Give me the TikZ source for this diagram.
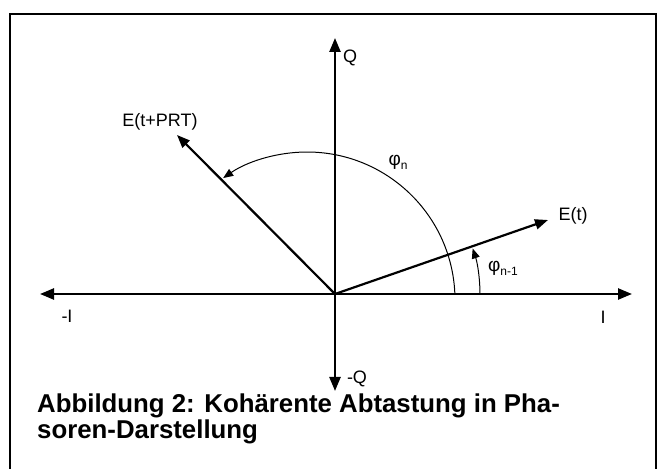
\documentclass[tikz,border=0pt]{standalone}
\usepackage{fontspec}
\setmainfont{Liberation Sans}
\usepackage{tikz}
\usetikzlibrary{positioning}
\usetikzlibrary{arrows.meta}
\usetikzlibrary{calc}

\newcommand{\phlabel}[1]{{\fontsize{19}{20}\selectfont φ}\raisebox{-4pt}{\fontsize{12}{13}\selectfont #1}}

\begin{document}
\begin{tikzpicture}[
  x=1pt, y=1pt,
  axis/.style={line width=2.4pt, -{Triangle[length=14pt,width=11pt]}},
  phasor/.style={line width=2.2pt, -{Triangle[length=13pt,width=10pt]}},
  anglearc/.style={line width=1pt, -{Triangle[length=10pt,width=8pt]}},
  lbl/.style={inner sep=0pt, font=\fontsize{18}{20}\selectfont},
  caption/.style={inner sep=0pt, anchor=base west, font=\fontsize{25.8}{27}\selectfont\bfseries},
]
  \useasboundingbox (0,0) rectangle (662,469);
  \draw[line width=1.6pt] (10,-10) rectangle (656,455);

  \coordinate (o) at (335,175);
  \coordinate (qpos) at (335,431);
  \coordinate (qneg) at (335,78);
  \coordinate (ipos) at (632,175);
  \coordinate (ineg) at (40,175);
  \coordinate (et) at (548,249);
  \coordinate (etprt) at (177,334);

  % axes
  \draw[axis] (o) -- (qpos);
  \draw[axis] (o) -- (qneg);
  \draw[axis] (o) -- (ipos);
  \draw[axis] (o) -- (ineg);

  % phasors
  \draw[phasor] (o) -- (et);
  \draw[phasor] (o) -- (etprt);

  % angles
  \draw[anglearc] ($(307,169)+(2.3:148)$) arc[start angle=2.3, end angle=124.5, radius=148];
  \draw[anglearc] ($(o)+(0:145)$) arc[start angle=0, end angle=18.3, radius=145];

  \node[lbl, anchor=west] (qlbl) at (343,411) {Q};
  \node[lbl] (qneglbl) at (357,90) {-Q};
  \node[lbl] (ineglbl) at (67,153) {-I};
  \node[lbl] (iposlbl) at (603,152) {I};
  \node[lbl] (etlbl) at (573,253) {E(t)};
  \node[lbl] (etprtlbl) at (160,347) {E(t+PRT)};
  \node[inner sep=0pt] (phin) at (398,307) {\phlabel{n}};
  \node[inner sep=0pt] (phinm) at (503,201) {\phlabel{n-1}};

  \node[caption] (cap1) at (37,56) {Abbildung 2: Kohärente Abtastung in Pha-};
  \node[caption] (cap2) at (37,30) {soren-Darstellung};
\end{tikzpicture}
\end{document}
